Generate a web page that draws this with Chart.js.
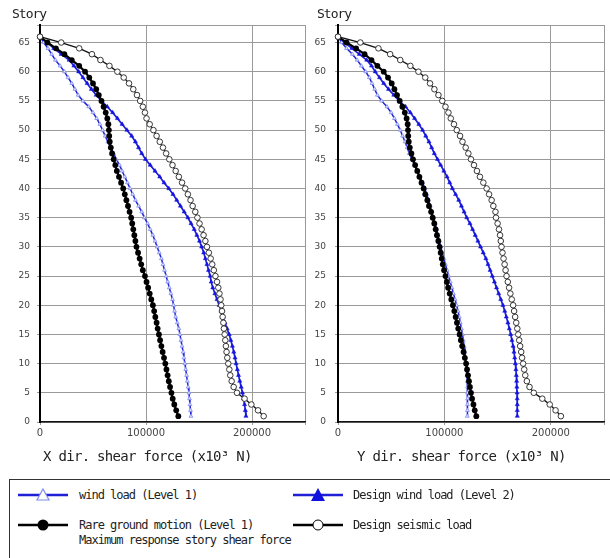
<!DOCTYPE html>
<html>
<head>
<meta charset="utf-8">
<script src="https://cdn.jsdelivr.net/npm/chart.js@4.4.1/dist/chart.umd.min.js"></script>
<style>
body { margin:0; background:#fff; width:610px; height:558px; overflow:hidden; position:relative; font-family:"DejaVu Sans Mono", monospace; color:#222; }
canvas { position:absolute; top:0; }
#xChart { left:0; }
#yChart { left:300px; }
.legendBox { position:absolute; left:9px; top:479px; width:640px; height:120px; border:1px solid #333; }
.item { position:absolute; font-size:12px; letter-spacing:-1px; line-height:14px; white-space:nowrap; }
.sym { position:absolute; }
</style>
</head>
<body>
<canvas id="xChart" width="312" height="470"></canvas>
<canvas id="yChart" width="310" height="470"></canvas>

<div class="legendBox"></div>
<svg class="sym" style="left:16px;top:487px" width="56" height="16">
  <line x1="2" y1="8" x2="52" y2="8" stroke="#1f1fd6" stroke-width="2.5"/>
  <polygon points="27,2 33,13 21,13" fill="#fff" stroke="#7f8cf0" stroke-width="1.2"/>
</svg>
<div class="item" style="left:79px;top:488px">wind load (Level 1)</div>
<svg class="sym" style="left:291px;top:487px" width="56" height="16">
  <line x1="2" y1="8" x2="52" y2="8" stroke="#1f1fd6" stroke-width="2.5"/>
  <polygon points="27,1 34,14 20,14" fill="#1010e0"/>
</svg>
<div class="item" style="left:353px;top:488px">Design wind load (Level 2)</div>
<svg class="sym" style="left:16px;top:517px" width="56" height="16">
  <line x1="2" y1="8" x2="52" y2="8" stroke="#000" stroke-width="2.5"/>
  <circle cx="27" cy="8" r="5.5" fill="#000"/>
</svg>
<div class="item" style="left:79px;top:518px">Rare ground motion (Level 1)</div>
<div class="item" style="left:79px;top:533px">Maximum response story shear force</div>
<svg class="sym" style="left:291px;top:517px" width="56" height="16">
  <line x1="2" y1="8" x2="52" y2="8" stroke="#000" stroke-width="2.5"/>
  <circle cx="27" cy="8" r="5" fill="#fff" stroke="#000" stroke-width="1"/>
</svg>
<div class="item" style="left:353px;top:518px">Design seismic load</div>

<script>
// stories from roof (66) down to 1
const stories = [66,65,64,63,62,61,60,59,58,57,56,55,54,53,52,51,50,49,48,47,46,45,44,43,42,41,40,39,38,37,36,35,34,33,32,31,30,29,28,27,26,25,24,23,22,21,20,19,18,17,16,15,14,13,12,11,10,9,8,7,6,5,4,3,2,1];
const xTicks = [0, 100000, 200000, 250000];
const yTicks = [0,5,10,15,20,25,30,35,40,45,50,55,60,65,68];

// X direction shear force (x10^3 N)
const xWindL1 = [0,3500,7500,11000,14500,19000,23000,26500,30000,33000,36000,40500,46000,50000,53500,56500,59000,61500,64000,66500,69500,72000,75000,77500,80000,82500,85000,87500,90000,93000,96000,98500,101500,104000,106500,108500,110500,112500,114500,116000,117500,119000,120500,122000,123500,125000,126000,127000,128000,129500,131000,132000,133000,134000,135000,135800,136700,137500,138300,139000,139800,140500,141000,141500,142000,142400];
const xDesignWind = [0,7000,13000,20000,27500,32000,36500,40500,44500,48500,53000,58000,63500,68500,73000,77500,82000,86500,90000,93000,96000,99500,104000,108500,113000,117000,121500,125500,129000,132500,136000,139500,142500,145500,148000,150500,152500,154500,156000,157500,159000,160500,161500,163000,165000,167000,169000,171000,172500,174500,176500,178500,180000,181500,182800,184000,185000,186200,187300,188500,189800,191000,192000,193000,193700,194300];
const xRare = [0,7000,15000,23000,30000,37000,42500,46500,50000,53000,55500,58000,60000,62000,63500,64500,65000,65300,65800,66800,68000,69500,71000,72500,74500,76500,78500,80000,81500,83000,84500,86000,87000,88000,89000,90000,91000,92500,94000,95500,97000,99000,100500,102000,103500,105000,106500,107700,108800,110000,111000,112200,113300,114500,115700,117000,118200,119300,120400,121500,122700,124000,125200,126700,128500,130500];
const xSeismic = [0,20000,37000,49000,57000,65500,73000,79000,84000,88000,91500,94500,97000,99000,100500,103500,107000,110000,113000,116000,119000,122000,125000,128000,131000,134000,137000,139500,142000,144000,146500,148500,150500,152500,154300,156000,157500,159300,161000,162500,164000,165500,167000,168200,169300,170300,171000,171700,172300,173000,173500,174200,174800,175400,176000,176700,177600,178600,179500,180800,182700,185800,193000,199400,205700,211000];

// Y direction shear force (x10^3 N)
const yWindL1 = [0,3500,8000,13500,18000,22000,26000,29500,32000,34500,37000,41000,46000,50000,53000,55800,58500,60700,63000,65000,67000,69500,72000,74500,77000,79500,81500,83500,85000,86800,88300,89800,91300,92700,94000,95300,96600,98000,99500,101000,102500,104000,105500,107000,108500,110000,111500,112800,114000,115000,116000,117000,117800,118600,119300,119900,120400,120800,121200,121500,121700,121800,121800,121700,121600,121500];
const yDesignWind = [0,6500,13000,20000,27000,31500,35000,39000,43000,47500,52500,57500,63500,68000,72000,76000,79500,82500,85500,88000,90500,93500,96500,99500,102500,105000,107500,110500,113500,116000,118500,121000,124000,126500,129000,131500,134000,136500,139000,141000,143000,145000,147000,149000,151000,153000,155000,156700,158200,159700,161000,162300,163500,164500,165400,166100,166700,167200,167600,167900,168100,168300,168400,168500,168500,168500];
const yRare = [0,8000,17000,25000,31500,37000,43000,47000,50500,53000,55500,58000,60500,62800,64500,65500,65800,66000,66500,67500,69000,70500,72500,74500,76500,78500,80500,82000,84000,85500,87500,89000,90500,91800,93000,94300,95500,96500,97500,98500,99700,101000,102300,103500,105000,106500,108000,109300,110600,111800,113000,114300,115500,116700,118000,119200,120400,121300,122200,123100,124000,125000,126000,127300,128500,130000];
const ySeismic = [0,21000,38000,49000,58500,68000,75600,82000,86500,90600,94400,98000,101000,103800,106000,109000,111600,114700,117000,120000,122500,125000,127800,130600,133400,136600,139700,142000,144400,146000,148000,148500,150000,151300,152300,153000,153700,154600,155600,156600,157500,158400,159600,160800,162000,163300,164600,165500,166500,167500,168500,169400,170300,171200,172200,173000,174000,175000,176000,177500,180000,184000,192000,199000,204500,209500];

function xyzip(xs, ys) {
    return xs.map((value, index) => ({"x": value, "y": ys[index]}));
}

const axisText = {
    id: 'axisText',
    afterDraw(chart, args, opts) {
        let ctx = chart.ctx;
        ctx.save();
        ctx.fillStyle = '#222';
        ctx.textBaseline = 'middle';
        ctx.font = '13px "DejaVu Sans Mono"';
        ctx.letterSpacing = '-1px';
        ctx.fillText('Story', opts.storyX, 15);
        ctx.font = '14px "DejaVu Sans Mono"';
        ctx.letterSpacing = '-0.7px';
        ctx.fillText(opts.title, opts.titleX, 457);
        ctx.restore();
    }
};

function makeChart(id, windL1, designWind, rare, seismic, opts) {
    return new Chart(id, {
        type: "scatter",
        data: {
            datasets: [{
                label: "Design seismic load",
                data: xyzip(seismic, stories),
                showLine: true,
                borderColor: "#111",
                borderWidth: 1.3,
                pointRadius: 2.8,
                pointBackgroundColor: "#fff",
                pointBorderColor: "#222",
                pointBorderWidth: 0.9,
                clip: false
            },
            {
                label: "Rare ground motion (Level 1)",
                data: xyzip(rare, stories),
                showLine: true,
                borderColor: "#000",
                borderWidth: 2.2,
                pointRadius: 2.9,
                pointBackgroundColor: "#000",
                pointBorderColor: "#000",
                pointBorderWidth: 0,
                clip: false
            },
            {
                label: "Design wind load (Level 2)",
                data: xyzip(designWind, stories),
                showLine: true,
                borderColor: "#1f1fd6",
                borderWidth: 1.7,
                pointStyle: "triangle",
                pointRadius: 2.4,
                pointBackgroundColor: "#1414e0",
                pointBorderColor: "#1414e0",
                pointBorderWidth: 0.5,
                clip: false
            },
            {
                label: "wind load (Level 1)",
                data: xyzip(windL1, stories),
                showLine: true,
                borderColor: "#1f1fd6",
                borderWidth: 1.5,
                pointStyle: "triangle",
                pointRadius: 2.2,
                pointBackgroundColor: "#dfe3ff",
                pointBorderColor: "#7f8cf0",
                pointBorderWidth: 0.8,
                clip: false
            }]
        },
        options: {
            responsive: false,
            animation: false,
            layout: {padding: {top: 25, right: opts.padRight, left: 0, bottom: 0}},
            plugins: {
                legend: {display: false},
                tooltip: {enabled: false},
                axisText: {storyX: opts.storyX, title: opts.title, titleX: opts.titleX}
            },
            scales: {
                x: {
                    type: "linear",
                    min: 0,
                    max: 250000,
                    afterBuildTicks: s => { s.ticks = xTicks.map(v => ({value: v})); },
                    afterFit: s => { s.height = 48; },
                    grid: {color: "#9a9a9a", tickLength: 3},
                    border: {color: "#111", width: 1.5},
                    ticks: {
                        font: {family: "DejaVu Sans", size: 10},
                        color: "#444",
                        padding: 2,
                        maxRotation: 0,
                        autoSkip: false,
                        callback: v => v === 250000 ? "" : String(v)
                    }
                },
                y: {
                    type: "linear",
                    min: 0,
                    max: 68,
                    afterBuildTicks: s => { s.ticks = yTicks.map(v => ({value: v})); },
                    afterFit: s => { s.width = opts.yWidth; },
                    grid: {color: "#9a9a9a", tickLength: 3},
                    border: {color: "#000", width: 2},
                    ticks: {
                        font: {family: "DejaVu Sans", size: 9},
                        color: "#444",
                        padding: opts.yPad,
                        autoSkip: false,
                        callback: v => v === 68 ? "" : String(v)
                    }
                }
            }
        },
        plugins: [axisText]
    });
}

makeChart("xChart", xWindL1, xDesignWind, xRare, xSeismic,
    {padRight: 7, yWidth: 40, yPad: 7, storyX: 12, title: "X dir. shear force (x10\u00b3 N)", titleX: 43});
makeChart("yChart", yWindL1, yDesignWind, yRare, ySeismic,
    {padRight: 6, yWidth: 38, yPad: 9, storyX: 17, title: "Y dir. shear force (x10\u00b3 N)", titleX: 57});
</script>
</body>
</html>
